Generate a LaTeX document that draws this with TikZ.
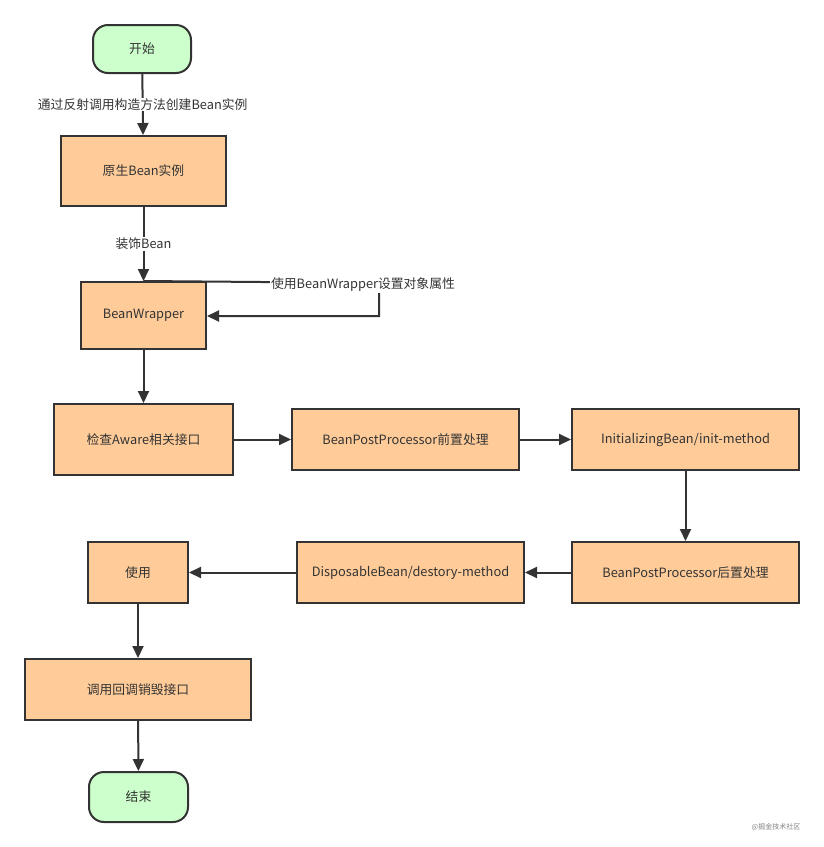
\documentclass[tikz,border=0pt]{standalone}
\usepackage{fontspec}
\setmainfont{Noto Sans CJK SC}
\usetikzlibrary{arrows.meta}
\definecolor{boxfill}{HTML}{FFCC99}
\definecolor{termfill}{HTML}{CCFFCC}
\definecolor{linec}{HTML}{333333}
\tikzset{
  box/.style={draw=linec, line width=2pt, fill=boxfill, minimum height=#1, inner sep=0pt, font=\fontsize{12.8}{15}\selectfont, text=linec},
  term/.style={draw=linec, line width=2pt, fill=termfill, rounded corners=15pt, minimum width=98pt, minimum height=48pt, inner sep=0pt, font=\fontsize{12.8}{15}\selectfont, text=linec},
  conn/.style={draw=linec, line width=2pt, -{Triangle[length=12pt,width=11pt]}},
  lbl/.style={fill=white, inner sep=1pt, font=\fontsize{12.8}{15}\selectfont, text=linec}
}
\begin{document}
\begin{tikzpicture}[x=1pt,y=-1pt]
\useasboundingbox (0,0) rectangle (823,847);
\node[term] (start) at (142,49) {开始};
\node[box=70pt, minimum width=165pt] (raw) at (143.5,171) {原生Bean实例};
\node[box=67pt, minimum width=125pt] (bw) at (143.5,315.5) {BeanWrapper};
\node[box=71pt, minimum width=179pt] (aware) at (143.5,439.5) {检查Aware相关接口};
\node[box=61pt, minimum width=227pt] (pre) at (405.5,439.5) {BeanPostProcessor前置处理};
\node[box=61pt, minimum width=227pt] (init) at (685.5,439.5) {InitializingBean/init-method};
\node[box=61pt, minimum width=227pt] (post) at (685.5,572.5) {BeanPostProcessor后置处理};
\node[box=61pt, minimum width=227pt] (disp) at (410.5,572.5) {DisposableBean/destory-method};
\node[box=61pt, minimum width=100pt] (use) at (138,572.5) {使用};
\node[box=61pt, minimum width=226pt] (destroy) at (138,689.5) {调用回调销毁接口};
\node[term, minimum width=99pt, minimum height=50pt] (end) at (138.5,797) {结束};
\node[font=\fontsize{7}{8}\selectfont, text=gray] (wm) at (776,827) {@掘金技术社区};

\draw[conn] (start) -- (raw) node[lbl, midway] {通过反射调用构造方法创建Bean实例};
\draw[conn] (raw) -- (bw) node[lbl, pos=0.5] {装饰Bean};
\coordinate (c1) at (379,283);
\coordinate (c2) at (379,316);
\draw[conn] (bw.north) -- (c1) -- (c2) -- (bw.east |- c2);
\node[lbl] (loopl) at (363,285) {使用BeanWrapper设置对象属性};
\draw[conn] (bw) -- (aware);
\draw[conn] (aware) -- (pre);
\draw[conn] (pre) -- (init);
\draw[conn] (init) -- (post);
\draw[conn] (post) -- (disp);
\draw[conn] (disp) -- (use);
\draw[conn] (use) -- (destroy);
\draw[conn] (destroy) -- (end);
\end{tikzpicture}
\end{document}
